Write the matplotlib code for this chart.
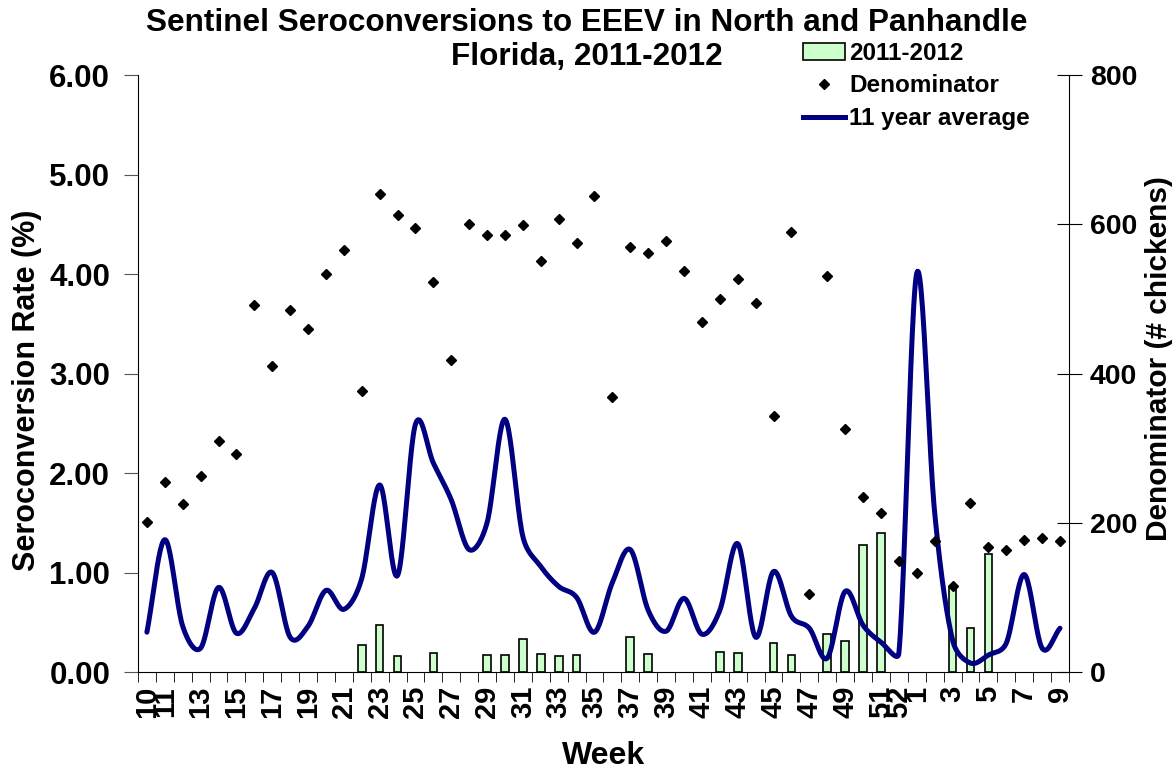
import numpy as np
import matplotlib
matplotlib.use("Agg")
import matplotlib.pyplot as plt
from matplotlib.lines import Line2D
from matplotlib.patches import Patch

plt.rcParams["font.family"]=["Liberation Sans","DejaVu Sans"]
plt.rcParams["font.weight"]="bold"

weeks=list(range(10,53))+list(range(1,10))
shown=[10,11]+list(range(13,52,2))+[52,1,3,5,7,9]

# seroconversion rate 2011-2012 (%)
rate=[0,0,0,0,0,0,0,0,0,0,0,0,0.27,0.47,0.16,0,0.19,0,0,0.17,0.17,0.33,0.18,0.16,0.17,0,
      0,0.35,0.18,0,0,0,0.20,0.19,0,0.29,0.17,0,0.38,0.31,1.28,1.40,0,
      0,0,0.85,0.44,1.19,0,0,0,0]
# 11 year average (%)
avg=[0.40,1.33,0.46,0.24,0.85,0.39,0.64,1.00,0.35,0.46,0.82,0.63,0.94,1.88,0.97,2.49,2.10,1.73,1.23,1.50,
     2.54,1.36,1.06,0.86,0.75,0.40,0.90,1.23,0.62,0.41,0.74,0.38,0.62,1.29,0.35,1.01,0.56,0.44,0.14,0.81,
     0.47,0.30,0.19,4.01,1.60,0.32,0.09,0.17,0.29,0.98,0.24,0.44]
# number of chickens tested
denom=[201,255,225,263,310,292,492,410,485,460,533,566,376,640,612,595,523,418,601,586,585,599,551,607,575,638,
       368,569,562,577,537,469,500,527,494,343,590,104,531,325,234,213,149,
       133,176,115,226,168,163,177,180,176]

x=np.arange(len(weeks))

def smooth(xs,ys,kx=17.9,ky=99.5,n=24):
    # excel-like bezier smoothing, control arms limited by the segment length
    P=np.column_stack([np.asarray(xs,float)*kx,np.asarray(ys,float)*ky])
    Q=np.vstack([2*P[0]-P[1],P,2*P[-1]-P[-2]])
    D=(Q[2:]-Q[:-2])/6
    t=np.linspace(0,1,n,endpoint=False)[:,None]
    out=[]
    for i in range(len(P)-1):
        L=np.hypot(*(P[i+1]-P[i]))
        d1,d2=D[i],D[i+1]
        d1=d1*min(1,0.5*L/max(np.hypot(*d1),1e-9))
        d2=d2*min(1,0.5*L/max(np.hypot(*d2),1e-9))
        p1,c1,c2,p2=P[i],P[i]+d1,P[i+1]-d2,P[i+1]
        out.append((1-t)**3*p1+3*(1-t)**2*t*c1+3*(1-t)*t**2*c2+t**3*p2)
    out.append(P[-1:])
    out=np.vstack(out)
    return out[:,0]/kx,out[:,1]/ky

fig=plt.figure(figsize=(11.73,7.75),dpi=100)
ax=fig.add_axes([0.1176,0.1329,0.9113-0.1176,0.9032-0.1329])
nz=[i for i in x if rate[i]>0]
ax.bar(nz,[rate[i] for i in nz],width=0.43,color="#CCFFCC",edgecolor="black",linewidth=1.2,zorder=2)
sx,sy=smooth(x,avg)
ax.plot(sx,sy,color="#000080",lw=3.6,zorder=3,solid_capstyle="round")
ax.set_xlim(-0.5,len(weeks)-0.5)
ax.set_ylim(0,6)
ax.set_yticks(np.arange(0,7))
ax.set_yticklabels(["%.2f"%v for v in np.arange(0,7)],fontsize=22.5,fontweight="bold")
ax.set_xticks([weeks.index(w) for w in shown])
ax.set_xticklabels([str(w) for w in shown],rotation=90,fontsize=21,fontweight="bold")
ax.set_xticks(np.arange(-0.5,len(weeks)),minor=True)
ax.tick_params(axis="x",which="major",length=0,pad=10)
ax.tick_params(axis="x",which="minor",length=7,direction="out",color="black")
ax.tick_params(axis="y",length=10,direction="out",color="#555555",pad=10)
ax.spines["top"].set_visible(False)
ax.spines["right"].set_visible(False)
ax.set_ylabel("Seroconversion Rate (%)",fontsize=22,fontweight="bold",labelpad=5.5)
ax.yaxis.label.set_y(0.472)
ax.set_xlabel("Week",fontsize=23,fontweight="bold",labelpad=16)

ax2=ax.twinx()
ax2.plot(x,denom,"D",color="black",ms=5.5,zorder=4)
ax2.set_ylim(0,800)
ax2.set_yticks([0,200,400,600,800])
ax2.set_yticklabels(["0","200","400","600","800"],fontsize=20.5,fontweight="bold")
ax2.tick_params(axis="y",length=18,direction="inout",pad=6)
for s in ["top","left","bottom"]: ax2.spines[s].set_visible(False)
ax2.set_ylabel("Denominator (# chickens)",fontsize=21.5,fontweight="bold",labelpad=6)
ax2.yaxis.label.set_y(0.525)

fig.text(0.5,0.99,"Sentinel Seroconversions to EEEV in North and Panhandle\nFlorida, 2011-2012",
         ha="center",va="top",fontsize=22.7,fontweight="bold",linespacing=1.2)

handles=[Patch(facecolor="#CCFFCC",edgecolor="black",linewidth=1.2),
         Line2D([],[],marker="D",ls="",color="black",ms=5.5),
         Line2D([],[],color="#000080",lw=3.6)]
ax2.legend(handles,["2011-2012","Denominator","11 year average"],loc="upper left",
           bbox_to_anchor=(0.674,0.962),bbox_transform=fig.transFigure,frameon=False,
           prop={"size":17.5,"weight":"bold"},handlelength=1.75,handletextpad=0.15,labelspacing=0.4,borderpad=0)

fig.savefig("out.png",dpi=100)
